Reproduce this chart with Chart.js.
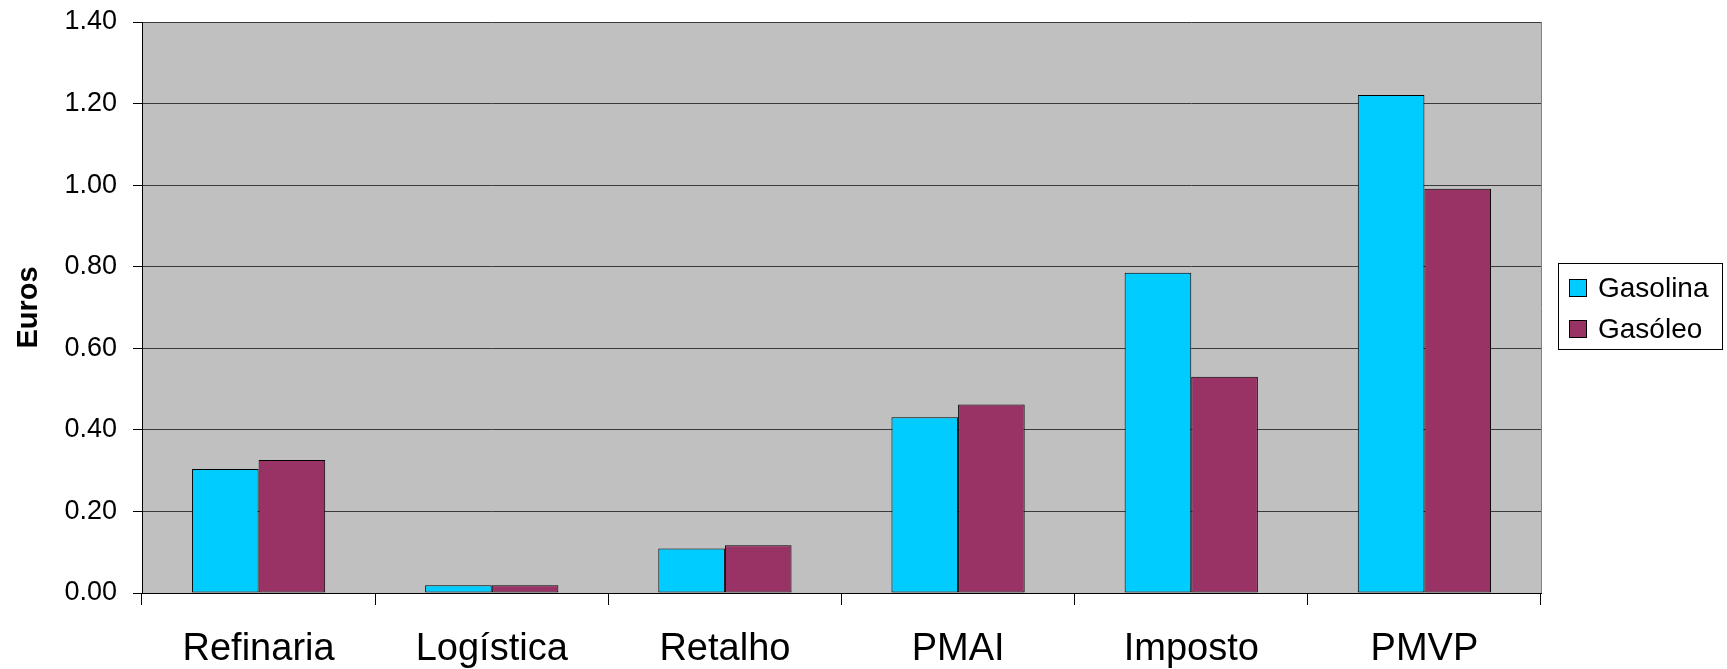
<!DOCTYPE html>
<html lang="pt">
<head>
<meta charset="utf-8">
<title>Estrutura de preços dos combustíveis</title>
<script src="https://cdn.jsdelivr.net/npm/chart.js@4.4.1/dist/chart.umd.min.js"></script>
<style>
  html, body { margin: 0; padding: 0; background: #ffffff; }
  #wrap { width: 1727px; height: 669px; }
</style>
</head>
<body>
<div id="wrap"><canvas id="chart" width="1727" height="669"></canvas></div>
<script>
// Price components (euros per litre)
const categories = ['Refinaria', 'Logística', 'Retalho', 'PMAI', 'Imposto', 'PMVP'];
const gasolina = [0.304, 0.019, 0.109, 0.431, 0.785, 1.221];
const gasoleo  = [0.326, 0.019, 0.117, 0.462, 0.530, 0.991];
const seriesNames = ['Gasolina', 'Gasóleo'];
const yTicks = [0, 0.2, 0.4, 0.6, 0.8, 1.0, 1.2, 1.4];

const FONT = "'Liberation Sans', Arial, sans-serif";

// Grey plot background and the light right-hand frame edge
const plotFrame = {
  id: 'plotFrame',
  beforeDraw(chart) {
    const { ctx, chartArea: a } = chart;
    ctx.save();
    ctx.fillStyle = '#c0c0c0';
    ctx.fillRect(a.left, a.top, a.right - a.left, a.bottom - a.top);
    ctx.restore();
  },
  afterDraw(chart) {
    const { ctx, chartArea: a } = chart;
    ctx.save();
    ctx.strokeStyle = '#808080';
    ctx.lineWidth = 1;
    ctx.beginPath();
    ctx.moveTo(Math.round(a.right) + 0.5, a.top);
    ctx.lineTo(Math.round(a.right) + 0.5, a.bottom);
    ctx.stroke();
    ctx.restore();
  }
};

// Boxed legend to the right of the plot
const boxLegend = {
  id: 'boxLegend',
  afterDraw(chart) {
    const { ctx } = chart;
    const x0 = 1558, y0 = 263, w = 164, h = 86;
    ctx.save();
    ctx.fillStyle = '#ffffff';
    ctx.fillRect(x0, y0, w, h);
    ctx.strokeStyle = '#000000';
    ctx.lineWidth = 1;
    ctx.strokeRect(x0 + 0.5, y0 + 0.5, w, h);
    const rows = [288, 329];
    chart.data.datasets.forEach((ds, i) => {
      const cy = rows[i];
      ctx.fillStyle = ds.backgroundColor;
      ctx.fillRect(1569, cy - 9, 18, 18);
      ctx.strokeRect(1569.5, cy - 8.5, 17, 17);
      ctx.fillStyle = '#000000';
      ctx.font = '28px ' + FONT;
      ctx.textBaseline = 'middle';
      ctx.textAlign = 'left';
      ctx.fillText(ds.label, 1598, cy + 1);
    });
    ctx.restore();
  }
};

new Chart(document.getElementById('chart'), {
  type: 'bar',
  data: {
    labels: categories,
    datasets: [
      { label: seriesNames[0], data: gasolina, backgroundColor: '#00ccff' },
      { label: seriesNames[1], data: gasoleo,  backgroundColor: '#993366' }
    ]
  },
  options: {
    responsive: false,
    animation: false,
    devicePixelRatio: 1,
    layout: { padding: { left: 0, right: 186, top: 22, bottom: 0 } },
    datasets: {
      bar: {
        categoryPercentage: 2 / 3.5,
        barPercentage: 1,
        borderColor: '#000000',
        borderWidth: 1,
        borderSkipped: false
      }
    },
    plugins: {
      legend: { display: false },
      tooltip: { enabled: false }
    },
    scales: {
      x: {
        offset: true,
        grid: {
          offset: true,
          drawOnChartArea: false,
          drawTicks: true,
          tickLength: 12,
          color: '#000000',
          tickColor: '#000000'
        },
        border: { display: true, color: '#000000', width: 1 },
        ticks: {
          color: '#000000',
          font: { family: FONT, size: 38 },
          padding: 22,
          maxRotation: 0,
          autoSkip: false
        },
        afterFit(scale) {
          scale.height = 76;
          scale.paddingLeft = 0;
          scale.paddingRight = 0;
        }
      },
      y: {
        min: 0,
        max: 1.4,
        afterBuildTicks(scale) { scale.ticks = yTicks.map(v => ({ value: v })); },
        grid: {
          color: '#3a3a3a',
          lineWidth: 1,
          tickLength: 9,
          tickColor: '#000000'
        },
        border: { display: true, color: '#000000', width: 1 },
        ticks: {
          color: '#000000',
          font: { family: FONT, size: 27 },
          padding: 16,
          callback: v => Number(v).toFixed(2)
        },
        title: {
          display: true,
          text: 'Euros',
          color: '#000000',
          font: { family: FONT, size: 29, weight: 'bold' },
          padding: { top: 12, bottom: 0 }
        },
        afterFit(scale) {
          scale.width = 142;
          scale.paddingTop = 0;
          scale.paddingBottom = 0;
        }
      }
    }
  },
  plugins: [plotFrame, boxLegend]
});
</script>
</body>
</html>
